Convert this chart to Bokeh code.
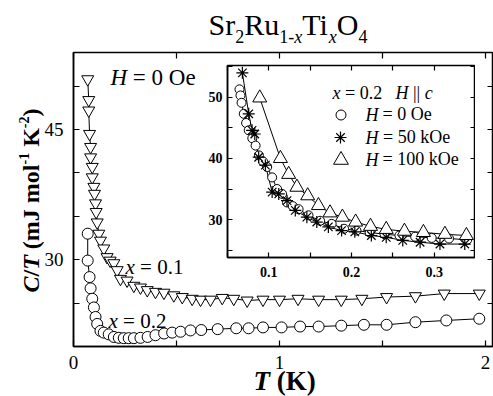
import math
from bokeh.plotting import figure
from bokeh.models import Label, LinearAxis, FixedTicker, Legend, LegendItem
from bokeh.layouts import column
from bokeh.embed import file_html
from bokeh.resources import INLINE

FONT = "Liberation Serif"

# ---------------- data ----------------
# main panel: x = 0.1 (inverted triangles)
T_x01 = [0.069, 0.074, 0.074, 0.078, 0.083, 0.083, 0.091, 0.091, 0.099, 0.102,
         0.107, 0.110, 0.115, 0.123, 0.131, 0.147, 0.163, 0.178, 0.196, 0.212, 0.228,
         0.26, 0.293, 0.325, 0.358, 0.398, 0.439, 0.487, 0.528, 0.576, 0.617,
         0.665, 0.722, 0.778, 0.843, 0.92, 1.0, 1.09, 1.19, 1.30, 1.40,
         1.52, 1.66, 1.80, 1.97]
C_x01 = [50.8, 48.4, 47.2, 44.5, 43.0, 41.8, 40.7, 39.5, 38.4, 37.6,
         36.5, 35.5, 34.3, 33.0, 32.2, 31.3, 30.3, 29.9, 29.6, 28.8, 27.8,
         27.6, 27.0, 26.8, 26.5, 26.3, 26.2, 25.9, 25.7, 25.5, 25.4,
         25.4, 25.6, 25.5, 25.3, 25.4, 25.4, 25.5, 25.4, 25.4, 25.5,
         25.7, 25.8, 26.1, 26.1]
# main panel: x = 0.2 (circles)
T_x02 = [0.069, 0.069, 0.078, 0.083, 0.091, 0.099, 0.107, 0.115, 0.131, 0.147,
         0.171, 0.196, 0.22, 0.244, 0.268, 0.293, 0.325, 0.36, 0.398, 0.44,
         0.479, 0.52, 0.568, 0.62, 0.70, 0.79, 0.85, 0.92, 1.01, 1.10,
         1.19, 1.30, 1.41, 1.52, 1.66, 1.81, 1.97]
C_x02 = [33.0, 29.9, 28.0, 26.7, 25.5, 24.5, 23.4, 22.6, 21.8, 21.6,
         21.4, 21.1, 21.0, 20.96, 20.96, 20.96, 21.0, 21.1, 21.3, 21.5,
         21.6, 21.7, 21.85, 21.9, 22.0, 22.1, 22.1, 22.2, 22.2, 22.3,
         22.3, 22.4, 22.5, 22.5, 22.8, 23.0, 23.2]

# inset: x = 0.2, H || c
T_h0 = [0.0645, 0.0657, 0.067, 0.0697, 0.0725, 0.0757, 0.080, 0.084, 0.088, 0.093,
        0.098, 0.104, 0.110, 0.116, 0.122, 0.129, 0.136, 0.148, 0.162, 0.176,
        0.191, 0.206, 0.222, 0.240, 0.258, 0.277, 0.297, 0.318, 0.340]
C_h0 = [51.3, 50.3, 49.1, 47.3, 45.8, 44.6, 43.3, 42.1, 40.5, 39.5,
        38.6, 36.9, 35.0, 34.2, 32.8, 32.2, 31.7, 30.7, 29.8, 29.3,
        28.5, 28.2, 27.9, 27.6, 27.4, 27.2, 27.0, 26.9, 26.7]
T_h50 = [0.068, 0.0757, 0.0797, 0.083, 0.0877, 0.0958, 0.104, 0.112, 0.122, 0.132,
         0.146, 0.158, 0.172, 0.188, 0.204, 0.224, 0.242, 0.262, 0.283, 0.307, 0.337]
C_h50 = [54.0, 47.3, 44.6, 44.0, 40.2, 38.9, 34.5, 34.2, 33.1, 31.5,
         30.4, 29.6, 28.8, 28.2, 28.0, 27.4, 27.1, 26.6, 26.3, 26.0, 26.0]
T_h100 = [0.089, 0.114, 0.124, 0.134, 0.147, 0.160, 0.174, 0.189, 0.205, 0.223,
          0.242, 0.264, 0.287, 0.313, 0.339]
C_h100 = [49.9, 40.0, 37.4, 35.3, 33.9, 32.3, 31.1, 30.4, 29.6, 28.9,
          28.4, 28.1, 27.9, 27.6, 27.4]

main_xticks = [0, 1, 2]
main_xminor = [0.5, 1.5]
main_yticks = [30, 45]
main_yminor = [20, 25, 35, 40, 50]
ins_xticks = [0.1, 0.2, 0.3]
ins_xminor = [0.05, 0.15, 0.25, 0.35]
ins_yticks = [30, 40, 50]
ins_yminor = [25, 35, 45, 55]

legend_labels = ["= 0 Oe", "= 50 kOe", "= 100 kOe"]

# ---------------- text metrics (Times-compatible) ----------------
_R = {' ': 250, '(': 333, ')': 333, '-': 333, '.': 250, '/': 278, '=': 564,
      'C': 667, 'H': 722, 'K': 722, 'O': 722, 'R': 667, 'S': 556, 'T': 611,
      'J': 389, 'c': 444, 'e': 444, 'i': 278, 'k': 500, 'l': 278, 'm': 778,
      'o': 500, 'r': 333, 'u': 500, 'x': 500, '|': 200}
_B = {' ': 250, '(': 333, ')': 333, '-': 333, '/': 278, 'C': 722, 'T': 667,
      'K': 778, 'J': 500, 'm': 833, 'o': 500, 'l': 278}
for d in "0123456789":
    _R[d] = 500
    _B[d] = 500
W = {'r': _R, 'i': dict(_R, x=444, H=722, c=444, C=667, T=556), 'b': _B,
     'bi': dict(_B, C=667, T=611)}
STYLE = {'r': 'normal', 'i': 'italic', 'b': 'bold', 'bi': 'bold italic'}
BASE_FIX = 0.3  # measured: the drawn baseline sits ~0.3 em below the anchor


def tw(s, st, size):
    return sum(W[st].get(ch, 500) for ch in s) * size / 1000.0


def rich(fig, fl, fb, x0, y0, parts, angle=0.0):
    """Place a run of text pieces; x0, y0 = start/baseline in page px;
    fl, fb = page px of the frame's left / bottom edge."""
    adv = 0.0
    for text, size, st, rise in parts:
        lead = len(text) - len(text.lstrip(' '))
        adv += tw(' ' * lead, st, size)
        t = text.lstrip(' ')
        up = rise + BASE_FIX * size
        if angle == 0:
            x = x0 + adv - fl
            y = fb - (y0 - up)
        else:
            x = (x0 - up) - fl
            y = fb - (y0 - adv)
        fig.add_layout(Label(x=x, y=y, x_units='screen', y_units='screen', text=t,
                             text_font=FONT, text_font_size=f"{size}px",
                             text_font_style=STYLE[st], text_color='black',
                             angle=angle, text_baseline='alphabetic',
                             text_align='left'))
        adv += tw(t, st, size)


def style_axis(ax, size, bold, standoff, tick):
    ax.axis_line_width = 1.5
    ax.axis_line_color = 'black'
    ax.major_tick_in = tick
    ax.major_tick_out = 0
    ax.minor_tick_in = tick
    ax.minor_tick_out = 0
    ax.major_tick_line_width = 1.2
    ax.minor_tick_line_width = 1.2
    ax.major_tick_line_color = 'black'
    ax.minor_tick_line_color = 'black'
    ax.major_label_text_font = FONT
    ax.major_label_text_font_size = f"{size}px"
    ax.major_label_text_font_style = 'bold' if bold else 'normal'
    ax.major_label_text_color = 'black'
    ax.major_label_standoff = standoff


def mirror(fig, side, all_ticks, tick):
    # ticks only, no labels: every tick is given as a minor tick
    ax = LinearAxis(ticker=FixedTicker(ticks=[], minor_ticks=all_ticks))
    style_axis(ax, 10, False, 0, tick)
    ax.axis_line_color = None
    fig.add_layout(ax, side)


LB = 73  # common left border of all figures in the column
H = 396

# ---------------- text layer (title and axis titles), lies underneath ----------------
t = figure(width=493 + LB, height=H, x_range=(0, 1), y_range=(0, 1),
           output_backend="svg", toolbar_location=None,
           x_axis_location=None, y_axis_location=None,
           min_border_left=LB, min_border_right=0, min_border_top=0,
           min_border_bottom=0)
t.grid.visible = False
t.outline_line_color = None
t.background_fill_color = None
t.border_fill_color = 'white'
t.margin = (0, 0, -H, -LB)
# in this layer the frame spans the whole page: left 0, bottom H
rich(t, 0, H, 208, 33, [("Sr", 30, 'r', 0), ("2", 18, 'r', -8.4), ("Ru", 30, 'r', 0),
                        ("1-", 18, 'r', -8.4), ("x", 18, 'i', -8.4), ("Ti", 30, 'r', 0),
                        ("x", 18, 'i', -8.4), ("O", 30, 'r', 0), ("4", 18, 'r', -8.4)])
rich(t, 0, H, 253, 389, [("T", 27, 'bi', 0), (" (K)", 27, 'b', 0)])
rich(t, 0, H, 38, 292, [("C", 24, 'bi', 0), ("/", 24, 'b', 0), ("T", 24, 'bi', 0),
                        (" (mJ mol", 24, 'b', 0), ("-1", 14, 'b', 10), (" K", 24, 'b', 0),
                        ("-2", 14, 'b', 10), (")", 24, 'b', 0)], angle=math.pi / 2)

# ---------------- main figure ----------------
FL, FT, FB = 73, 52, 346
p = figure(width=493, height=H, x_range=(0, 2.039), y_range=(20, 53.88),
           output_backend="svg", toolbar_location=None,
           min_border_left=LB, min_border_right=0, min_border_top=FT,
           min_border_bottom=H - FB)
p.grid.visible = False
p.outline_line_color = 'black'
p.outline_line_width = 1.5
p.background_fill_color = 'white'
p.border_fill_color = None

p.xaxis.ticker = FixedTicker(ticks=main_xticks, minor_ticks=main_xminor)
p.yaxis.ticker = FixedTicker(ticks=main_yticks, minor_ticks=main_yminor)
style_axis(p.xaxis[0], 19, False, 9, 6)
style_axis(p.yaxis[0], 19, False, 10, 6)
mirror(p, 'above', main_xticks + main_xminor, 6)
mirror(p, 'right', main_yticks + main_yminor, 6)

p.line(T_x01, C_x01, line_color='black', line_width=1)
p.scatter(T_x01, C_x01, marker='inverted_triangle', size=12, fill_color='white',
          line_color='black', line_width=1)
p.line(T_x02, C_x02, line_color='black', line_width=1)
p.scatter(T_x02, C_x02, marker='circle', size=11, fill_color='white',
          line_color='black', line_width=1)

rich(p, FL, FB, 110, 84, [("H", 23, 'i', 0), (" = 0 Oe", 23, 'r', 0)])
rich(p, FL, FB, 125, 273, [("x", 21, 'i', 0), (" = 0.1", 21, 'r', 0)])
rich(p, FL, FB, 108, 327, [("x", 21, 'i', 0), (" = 0.2", 21, 'r', 0)])

# ---------------- inset ----------------
IL, IT, IR, IB = 227, 65, 475, 257
br, bt, bb = 0, 3, 30
qw = LB + (IR - IL) + br
qh = bt + (IB - IT) + bb
q = figure(width=qw, height=qh, x_range=(0.05, 0.35), y_range=(23.8, 55.2),
           output_backend="svg", toolbar_location=None,
           min_border_left=LB, min_border_right=br, min_border_top=bt,
           min_border_bottom=bb)
q.grid.visible = False
q.outline_line_color = 'black'
q.outline_line_width = 1.5
q.background_fill_color = 'white'
q.border_fill_color = None
q.xaxis.ticker = FixedTicker(ticks=ins_xticks, minor_ticks=ins_xminor)
q.yaxis.ticker = FixedTicker(ticks=ins_yticks, minor_ticks=ins_yminor)
style_axis(q.xaxis[0], 14, True, 9, 5)
style_axis(q.yaxis[0], 14, True, 5, 5)
mirror(q, 'above', ins_xticks + ins_xminor, 5)
mirror(q, 'right', ins_yticks + ins_yminor, 5)

q.line(T_h0, C_h0, line_color='black', line_width=1)
q.line(T_h50, C_h50, line_color='black', line_width=1)
q.line(T_h100, C_h100, line_color='black', line_width=1)
r0 = q.scatter(T_h0, C_h0, marker='circle', size=9, fill_color='white',
               line_color='black', line_width=1)
r50 = q.scatter(T_h50, C_h50, marker='asterisk', size=12, line_color='black',
                line_width=1.2)
r100 = q.scatter(T_h100, C_h100, marker='triangle', size=14, fill_color='white',
                 line_color='black', line_width=1)

# legend: one Legend per row so that rows can sit closer than the glyph boxes
rows = [(r0, legend_labels[0], 25, 114.0),
        (r50, legend_labels[1], 30, 137.0),
        (r100, legend_labels[2], 37, 159.5)]
for rend, lab, g, yc in rows:
    q.add_layout(Legend(items=[LegendItem(label=lab, renderers=[rend])],
                        location=(340 - g / 2 - IL, IB - (yc + g / 2)),
                        glyph_width=g, glyph_height=g, spacing=0, padding=0, margin=0,
                        label_standoff=int(round(382.5 - (340 + g / 2))),
                        label_height=18, label_text_font=FONT,
                        label_text_font_size="18px", label_text_color='black',
                        border_line_color=None, background_fill_alpha=0))
    q.add_layout(Label(x=365 - IL, y=IB - yc, x_units='screen', y_units='screen',
                       text="H", text_font=FONT, text_font_size="18px",
                       text_font_style='italic', text_baseline='middle',
                       text_align='left', text_color='black'))

rich(q, IL, IB, 332, 98, [("x", 18, 'i', 0), (" = 0.2", 18, 'r', 0)])
rich(q, IL, IB, 395, 98, [("H", 18, 'i', 0), (" || ", 18, 'r', 0), ("c", 18, 'i', 0)])

qtop = IT - bt
q.margin = (qtop - H, 0, H - qtop - qh, IL - LB)

layout = column(t, p, q)
open("out.html", "w").write(file_html(layout, INLINE))
